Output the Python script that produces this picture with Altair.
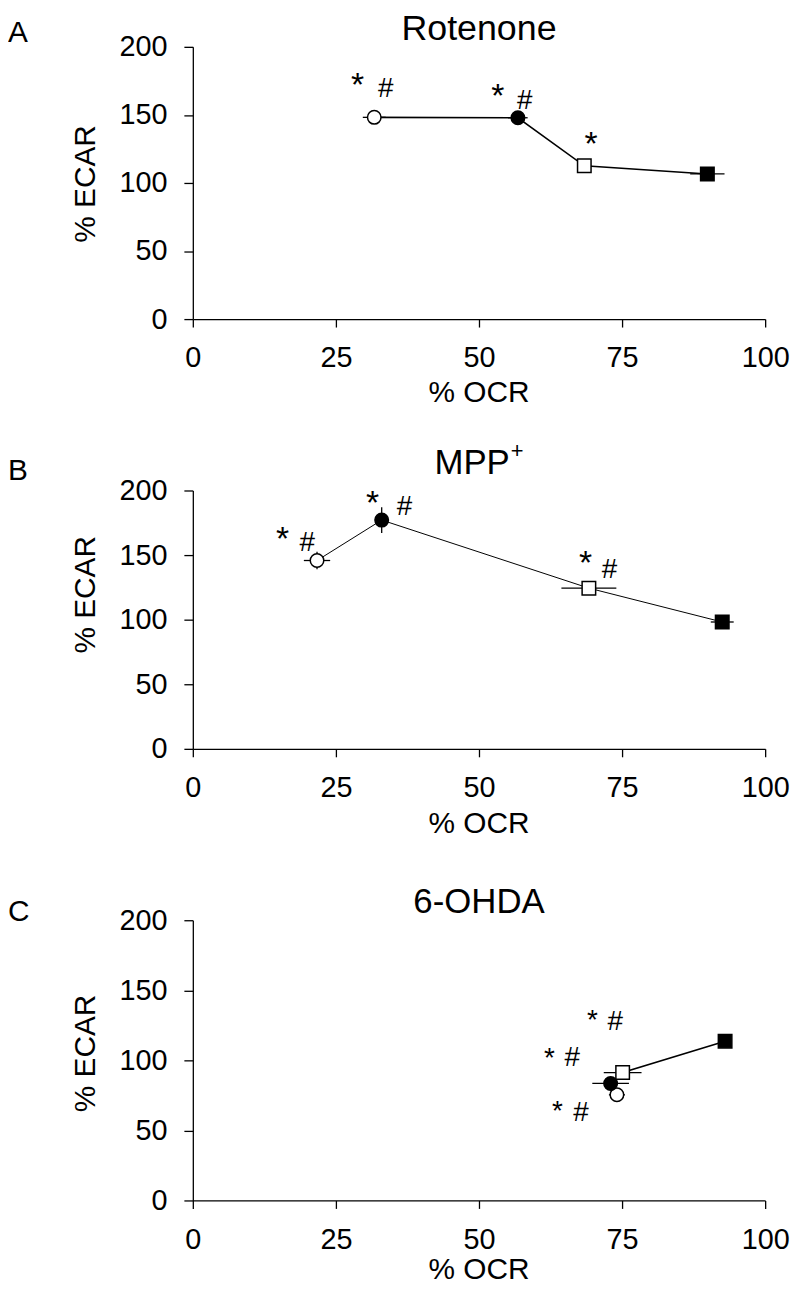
import altair as alt
import pandas as pd

FONT = "Liberation Sans, Arial, sans-serif"

groups = ["Group 1", "Group 2", "Group 3", "Group 4"]
x_ticks = [0, 25, 50, 75, 100]
y_ticks = [0, 50, 100, 150, 200]

# Panel A: Rotenone
ocr_a = [31.7, 56.8, 68.4, 89.9]
ocr_sem_a = [2.0, 1.7, 0.8, 3.0]
ecar_a = [148.2, 147.9, 112.6, 106.6]
ecar_sem_a = [1.5, 2.0, 1.5, 1.5]
star_x_a = [28.8, 53.3, 69.6]
star_y_a = [178.8, 170.1, 135.0]
hash_x_a = [33.7, 58.0]
hash_y_a = [170.1, 161.3]

# Panel B: MPP+
ocr_b = [21.7, 33.0, 69.2, 92.5]
ocr_sem_b = [2.3, 1.0, 4.8, 2.0]
ecar_b = [145.8, 177.1, 124.4, 98.2]
ecar_sem_b = [6.7, 10.0, 2.0, 2.0]
star_x_b = [15.7, 31.4, 68.6]
star_y_b = [169.5, 197.5, 150.4]
hash_x_b = [20.0, 37.0, 72.8]
hash_y_b = [160.6, 188.5, 140.2]

# Panel C: 6-OHDA
ocr_c = [74.1, 73.0, 75.1, 93.0]
ocr_sem_c = [1.4, 3.2, 3.3, 1.0]
ecar_c = [75.4, 83.5, 91.3, 113.7]
ecar_sem_c = [3.0, 2.0, 2.0, 2.0]
star_x_c = [69.8, 62.3, 63.7]
star_y_c = [133.8, 106.6, 68.8]
hash_x_c = [73.8, 66.3, 67.8]
hash_y_c = [129.1, 103.0, 64.0]

W = 576


def txt(text, x, y, size, align="center", baseline="middle", angle=0):
    kw = dict(font=FONT, fontSize=size, color="black", align=align, baseline=baseline)
    if angle:
        kw["angle"] = angle
    return alt.Chart(pd.DataFrame({"t": [text]})).mark_text(**kw).encode(
        text="t:N", x=alt.value(x), y=alt.value(y)
    )


def panel(ocr, ocr_sem, ecar, ecar_sem, sx, sy, hx, hy, height, titles, letter, letter_y,
          ytitle_y, xtitle_dy, line_w, star_size):
    df = pd.DataFrame({"group": groups, "order": [1, 2, 3, 4], "ocr": ocr, "ecar": ecar})
    df["ocr_lo"] = [o - s for o, s in zip(ocr, ocr_sem)]
    df["ocr_hi"] = [o + s for o, s in zip(ocr, ocr_sem)]
    df["ecar_lo"] = [e - s for e, s in zip(ecar, ecar_sem)]
    df["ecar_hi"] = [e + s for e, s in zip(ecar, ecar_sem)]

    xs = alt.Scale(domain=[0, 100], nice=False, zero=False)
    ys = alt.Scale(domain=[0, 200], nice=False, zero=False)
    xax = alt.Axis(values=x_ticks, title=None, grid=False, domainColor="black", tickColor="black",
                   tickSize=8, tickWidth=1.3, domainWidth=1.3, labelFontSize=29, labelFont=FONT,
                   labelColor="black", labelPadding=17, labelFlush=False, labelOverlap=False)
    yax = alt.Axis(values=y_ticks, title=None, grid=False, domainColor="black", tickColor="black",
                   tickSize=9, tickWidth=1.3, domainWidth=1.3, labelFontSize=29, labelFont=FONT,
                   labelColor="black", labelPadding=17, labelFlush=False, labelOverlap=False)

    base = alt.Chart(df)
    line = base.mark_line(color="black", strokeWidth=line_w).encode(
        x=alt.X("ocr:Q", scale=xs, axis=xax),
        y=alt.Y("ecar:Q", scale=ys, axis=yax),
        order="order:Q",
    )
    xerr = base.mark_rule(color="black", strokeWidth=1.3).encode(
        x="ocr_lo:Q", x2="ocr_hi:Q", y="ecar:Q")
    yerr = base.mark_rule(color="black", strokeWidth=1.3).encode(
        x="ocr:Q", y="ecar_lo:Q", y2="ecar_hi:Q")
    pts = base.mark_point(filled=True, stroke="black", strokeWidth=1.5, opacity=1).encode(
        x="ocr:Q", y="ecar:Q",
        shape=alt.Shape("group:N", scale=alt.Scale(domain=groups, range=["circle", "circle", "square", "square"]), legend=None),
        fill=alt.Fill("group:N", scale=alt.Scale(domain=groups, range=["white", "black", "white", "black"]), legend=None),
        size=alt.Size("group:N", scale=alt.Scale(domain=groups, range=[185, 185, 220, 220]), legend=None),
    )
    stars = alt.Chart(pd.DataFrame({"x": sx, "y": sy, "t": ["*"] * len(sx)})).mark_text(
        font=FONT, fontSize=star_size, color="black", baseline="alphabetic", dy=round(0.58 * star_size)
    ).encode(x="x:Q", y="y:Q", text="t:N")
    hashes = alt.Chart(pd.DataFrame({"x": hx, "y": hy, "t": ["#"] * len(hx)})).mark_text(
        font=FONT, fontSize=28, color="black", baseline="alphabetic", dy=10
    ).encode(x="x:Q", y="y:Q", text="t:N")

    layers = [line, xerr, yerr, pts, stars, hashes]
    layers += titles
    layers.append(txt(letter, -186, letter_y, 30, align="left"))
    layers.append(txt("% ECAR", -107, ytitle_y, 30, angle=270))
    layers.append(txt("% OCR", W / 2, height + xtitle_dy, 30))
    return alt.layer(*layers).properties(width=W, height=height)


pa = panel(ocr_a, ocr_sem_a, ecar_a, ecar_sem_a, star_x_a, star_y_a, hash_x_a, hash_y_a,
           274, [txt("Rotenone", W / 2, -18, 36)], "A", -14, 138, 74, 1.6, 34)
pb = panel(ocr_b, ocr_sem_b, ecar_b, ecar_sem_b, star_x_b, star_y_b, hash_x_b, hash_y_b,
           260, [txt("MPP", 319, -28, 35, align="right"), txt("+", 320, -40, 22, align="left")],
           "B", -20, 105, 76, 1.0, 34)
pc = panel(ocr_c, ocr_sem_c, ecar_c, ecar_sem_c, star_x_c, star_y_c, hash_x_c, hash_y_c,
           282, [txt("6-OHDA", W / 2, -18, 35)], "C", -8, 134, 70, 1.6, 28)

chart = alt.vconcat(pa, pb, pc, spacing=172.5, bounds="flush").properties(
    padding={"left": 0, "top": -1, "right": 0, "bottom": -5}
).configure_view(stroke=None)

chart.save("out.html", embed_options={"renderer": "svg", "actions": False})
